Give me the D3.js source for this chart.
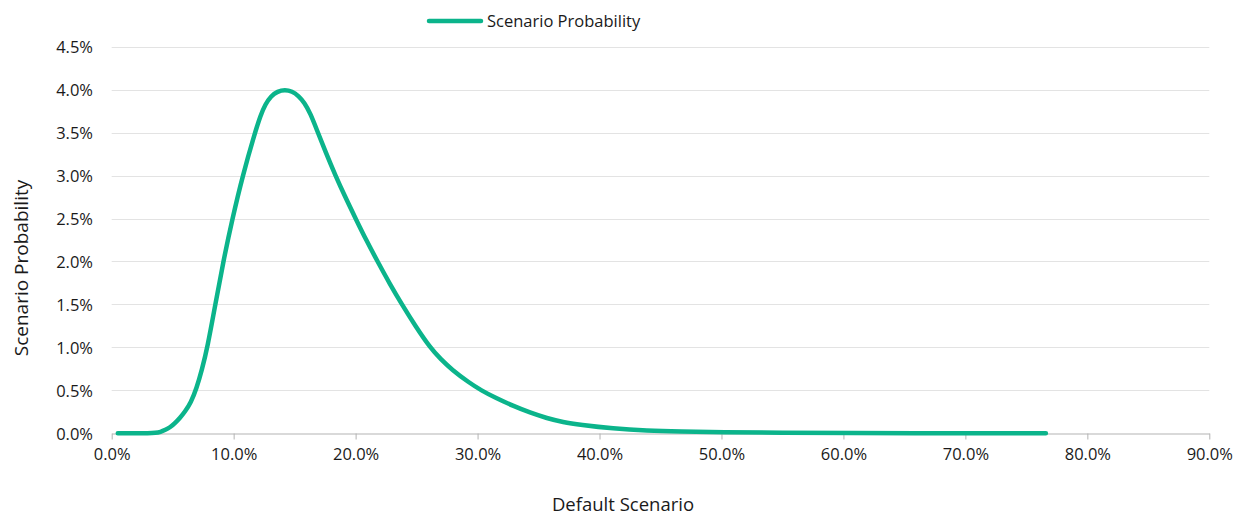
<!DOCTYPE html>
<html>
<head>
<meta charset="utf-8">
<script src="https://cdn.jsdelivr.net/npm/d3@7"></script>
<style>
  html, body { margin: 0; padding: 0; background: #fff; }
  svg { display: block; font-family: "Open Sans", "Noto Sans", sans-serif; }
</style>
</head>
<body>
<svg id="chart" width="1236" height="515"></svg>
<script>
// Default scenario (fraction) and scenario probability (fraction)
const defaultRates = [0.005, 0.02, 0.03, 0.036, 0.04, 0.044, 0.048, 0.052, 0.056, 0.060, 0.065, 0.0695, 0.074, 0.0785, 0.085, 0.0915, 0.099, 0.1074, 0.1175, 0.122, 0.126, 0.1305, 0.136, 0.142, 0.148, 0.153, 0.158, 0.163, 0.168, 0.1755, 0.1835, 0.1915, 0.20, 0.209, 0.218, 0.228, 0.238, 0.249, 0.261, 0.270, 0.279, 0.293, 0.303, 0.315, 0.329, 0.343, 0.357, 0.370, 0.384, 0.411, 0.439, 0.466, 0.50, 0.55, 0.60, 0.70, 0.766];
const probabilities = [0.0, 0.0, 0.00001, 0.00005, 0.00015, 0.0004, 0.0007, 0.0012, 0.0018, 0.0025, 0.0036, 0.0052, 0.0074, 0.010, 0.015, 0.020, 0.025, 0.030, 0.035, 0.0370, 0.0383, 0.03925, 0.0398, 0.040, 0.0398, 0.0393, 0.0385, 0.0372, 0.0354, 0.0327, 0.030, 0.0275, 0.025, 0.0224, 0.020, 0.0174, 0.015, 0.0125, 0.010, 0.0086, 0.0074, 0.0059, 0.0050, 0.0041, 0.0032, 0.0024, 0.00175, 0.0013, 0.0010, 0.00055, 0.0003, 0.0002, 0.00012, 0.00006, 0.00003, 0.00001, 0.0];
const xTicks = [0, 0.1, 0.2, 0.3, 0.4, 0.5, 0.6, 0.7, 0.8, 0.9];
const yTicks = [0, 0.005, 0.01, 0.015, 0.02, 0.025, 0.03, 0.035, 0.04, 0.045];
const seriesName = "Scenario Probability";
const xTitle = "Default Scenario";
const yTitle = "Scenario Probability";
const lineColor = "#0bb48b";

const svg = d3.select("#chart");
const x = d3.scaleLinear().domain([0, 0.9]).range([111.7, 1209.3]);
const y = d3.scaleLinear().domain([0, 0.045]).range([433.3, 46.7]);

// gridlines
svg.append("g").selectAll("line")
  .data(yTicks.filter(d => d > 0))
  .join("line")
  .attr("x1", x(0)).attr("x2", x(0.9))
  .attr("y1", d => Math.round(y(d)) + 0.5).attr("y2", d => Math.round(y(d)) + 0.5)
  .attr("stroke", "#e3e3e3").attr("stroke-width", 1);

// y axis labels
const yAxis = d3.axisLeft(y).tickValues(yTicks).tickFormat(d3.format(".1%")).tickSize(0).tickPadding(0);
const yg = svg.append("g").attr("transform", "translate(93,0)").call(yAxis);
yg.select(".domain").remove();
yg.selectAll("text").attr("font-size", 16.5).attr("fill", "#1a1a1a").attr("dy", "0.36em")
  .style("font-family", "'Open Sans', sans-serif");

// x axis
const xAxis = d3.axisBottom(x).tickValues(xTicks).tickFormat(d3.format(".1%")).tickSize(6).tickSizeOuter(0).tickPadding(9);
const xg = svg.append("g").attr("transform", `translate(0,${Math.round(y(0)) + 0.5})`).call(xAxis);
xg.select(".domain").attr("stroke", "#b3b3b3").attr("stroke-width", 1.2);
xg.selectAll(".tick line").attr("stroke", "#b3b3b3");
xg.selectAll("text").attr("font-size", 16.5).attr("fill", "#1a1a1a")
  .style("font-family", "'Open Sans', sans-serif");

// line
const line = d3.line()
  .x((d, i) => x(defaultRates[i]))
  .y(d => Math.min(y(0), y(d)))
  .curve(d3.curveBasis);
svg.append("path")
  .datum(probabilities)
  .attr("d", line)
  .attr("fill", "none")
  .attr("stroke", lineColor)
  .attr("stroke-width", 4.5)
  .attr("stroke-linecap", "round")
  .attr("stroke-linejoin", "round");

// titles
svg.append("text")
  .attr("x", 623).attr("y", 511)
  .attr("text-anchor", "middle")
  .attr("font-size", 18.5).attr("fill", "#1a1a1a")
  .text(xTitle);
svg.append("text")
  .attr("transform", "translate(28,268) rotate(-90)")
  .attr("text-anchor", "middle")
  .attr("font-size", 19).attr("fill", "#1a1a1a")
  .text(yTitle);

// legend
const lg = svg.append("g");
lg.append("line")
  .attr("x1", 429).attr("x2", 481).attr("y1", 21).attr("y2", 21)
  .attr("stroke", lineColor).attr("stroke-width", 4.5).attr("stroke-linecap", "round");
lg.append("text")
  .attr("x", 487).attr("y", 27)
  .attr("font-size", 16.5).attr("fill", "#1a1a1a")
  .text(seriesName);
</script>
</body>
</html>
